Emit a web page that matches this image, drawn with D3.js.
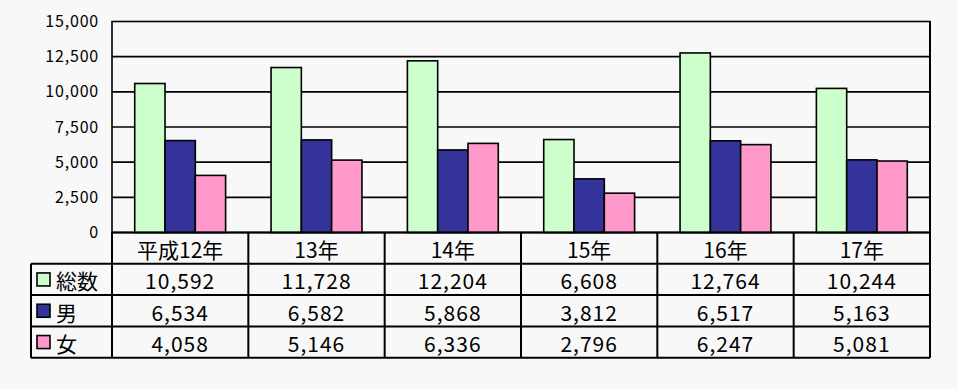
<!DOCTYPE html>
<html>
<head>
<meta charset="utf-8">
<script src="https://cdn.jsdelivr.net/npm/d3@7"></script>
<style>
  body { margin: 0; background: #f8f8f8; }
  svg { display: block; }
</style>
</head>
<body>
<div id="chart"></div>
<script>
const WIDTH = 958;
const HEIGHT = 389;
const LEFT = 112;
const RIGHT = 930;
const TOP = 21.5;
const BASE = 232.5;
const ROW_H = 31.3;
const LEGEND_LEFT = 31;
const FONT = "'Noto Sans CJK JP', 'Noto Sans', sans-serif";

const years = ["平成12年", "13年", "14年", "15年", "16年", "17年"];
const seriesNames = ["総数", "男", "女"];
const seriesColors = ["#ccffcc", "#333399", "#ff99cc"];
const totalValues = [10592, 11728, 12204, 6608, 12764, 10244];
const maleValues = [6534, 6582, 5868, 3812, 6517, 5163];
const femaleValues = [4058, 5146, 6336, 2796, 6247, 5081];
const yTicks = [0, 2500, 5000, 7500, 10000, 12500, 15000];

const series = [totalValues, maleValues, femaleValues];

const svg = d3.select("#chart")
  .append("svg")
  .attr("width", WIDTH)
  .attr("height", HEIGHT)
  .style("background", "#f8f8f8");

const xScale = d3.scaleBand()
  .domain(years)
  .range([LEFT, RIGHT])
  .padding(0);

const bw = xScale.bandwidth();
const innerScale = d3.scaleBand()
  .domain(seriesNames)
  .range([bw / 6, bw * 5 / 6])
  .padding(0);

const yScale = d3.scaleLinear()
  .domain([0, 15000])
  .range([BASE, TOP]);

// gridlines
svg.append("g")
  .selectAll("line")
  .data(yTicks.filter(d => d > 0 && d < 15000))
  .enter()
  .append("line")
  .attr("x1", LEFT)
  .attr("x2", RIGHT)
  .attr("y1", d => yScale(d))
  .attr("y2", d => yScale(d))
  .attr("stroke", "#000")
  .attr("stroke-width", 1.6);

// plot frame
svg.append("rect")
  .attr("x", LEFT)
  .attr("y", TOP)
  .attr("width", RIGHT - LEFT)
  .attr("height", BASE - TOP)
  .attr("fill", "none")
  .attr("stroke", "#000")
  .attr("stroke-width", 1.6);

// y axis labels
const yAxis = d3.axisLeft(yScale)
  .tickValues(yTicks)
  .tickFormat(d3.format(","))
  .tickSize(0)
  .tickPadding(13);

svg.append("g")
  .attr("transform", `translate(${LEFT}, 0)`)
  .call(yAxis)
  .call(g => g.select(".domain").remove())
  .selectAll("text")
  .style("font-family", FONT)
  .style("font-size", "16px")
  .style("letter-spacing", "0.8px")
  .attr("fill", "#000");

// bars
series.forEach((vals, si) => {
  svg.append("g")
    .selectAll("rect")
    .data(vals)
    .enter()
    .append("rect")
    .attr("x", (d, i) => xScale(years[i]) + innerScale(seriesNames[si]))
    .attr("y", d => yScale(d))
    .attr("width", innerScale.bandwidth())
    .attr("height", d => BASE - yScale(d))
    .attr("fill", seriesColors[si])
    .attr("stroke", "#000")
    .attr("stroke-width", 1.6);
});

// data table
const table = svg.append("g");
const tableBottom = BASE + ROW_H * 4;

// horizontal lines
table.append("line")
  .attr("x1", LEFT).attr("x2", RIGHT)
  .attr("y1", BASE).attr("y2", BASE);
[1, 2, 3, 4].forEach(r => {
  table.append("line")
    .attr("x1", LEGEND_LEFT).attr("x2", RIGHT)
    .attr("y1", BASE + ROW_H * r).attr("y2", BASE + ROW_H * r);
});
// vertical lines
table.append("line")
  .attr("x1", LEGEND_LEFT).attr("x2", LEGEND_LEFT)
  .attr("y1", BASE + ROW_H).attr("y2", tableBottom);
years.forEach(y => {
  table.append("line")
    .attr("x1", xScale(y)).attr("x2", xScale(y))
    .attr("y1", BASE).attr("y2", tableBottom);
});
table.append("line")
  .attr("x1", RIGHT).attr("x2", RIGHT)
  .attr("y1", TOP).attr("y2", tableBottom);
table.selectAll("line")
  .attr("stroke", "#000")
  .attr("stroke-width", 2);

// header row
table.append("g")
  .selectAll("text")
  .data(years)
  .enter()
  .append("text")
  .attr("x", d => xScale(d) + bw / 2)
  .attr("y", BASE + ROW_H / 2 + 1)
  .text(d => d);

// value rows
const fmt = d3.format(",");
series.forEach((vals, si) => {
  const cy = BASE + ROW_H * (si + 1.5) + 1;
  table.append("g")
    .selectAll("text")
    .data(vals)
    .enter()
    .append("text")
    .attr("x", (d, i) => xScale(years[i]) + bw / 2)
    .attr("y", cy)
    .style("letter-spacing", "1px")
    .text(d => fmt(d));

  table.append("rect")
    .attr("x", 37)
    .attr("y", cy - 7.5)
    .attr("width", 13)
    .attr("height", 13)
    .attr("fill", seriesColors[si])
    .attr("stroke", "#000")
    .attr("stroke-width", 1.6);

  table.append("text")
    .attr("x", 56)
    .attr("y", cy)
    .style("text-anchor", "start")
    .text(seriesNames[si]);
});

table.selectAll("text")
  .style("font-family", FONT)
  .style("font-size", "21px")
  .attr("dominant-baseline", "central")
  .filter(function () { return this.style.textAnchor !== "start"; })
  .style("text-anchor", "middle");
</script>
</body>
</html>
